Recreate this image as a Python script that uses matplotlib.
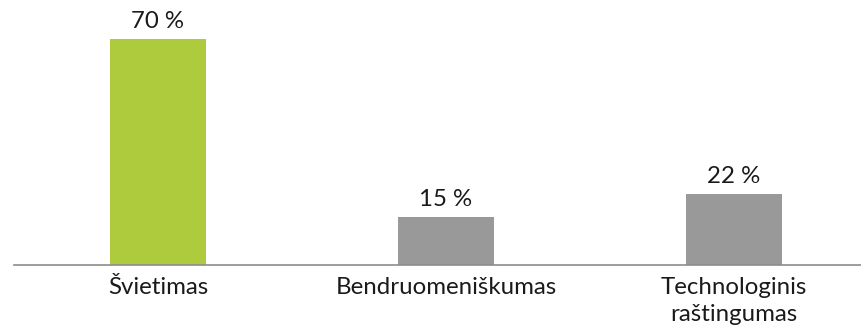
import matplotlib
matplotlib.use("Agg")
import matplotlib.pyplot as plt

categories = ["Švietimas", "Bendruomeniškumas", "Technologinis\nraštingumas"]
values = [70, 15, 22]
value_labels = ["70 %", "15 %", "22 %"]
colors = ["#ADCB3D", "#999999", "#999999"]

plt.rcParams["font.family"] = ["Lato", "DejaVu Sans"]

fig = plt.figure(figsize=(8.62, 3.27), dpi=100)
ax = fig.add_axes([14 / 862, 62 / 327, 864 / 862, 265 / 327])

x = range(len(categories))
bars = ax.bar(x, values, width=0.333, color=colors)

for rect, lab in zip(bars, value_labels):
    ax.annotate(lab, (rect.get_x() + rect.get_width() / 2, rect.get_height()),
                xytext=(0, 5), textcoords="offset points",
                ha="center", va="bottom", fontsize=17.3, color="#1a1a1a")

ax.set_xlim(-0.5, 2.5)
ax.set_ylim(0, 82)
ax.set_xticks(list(x))
ax.set_xticklabels(categories, fontsize=17.3, color="#1a1a1a", linespacing=1.3)
ax.tick_params(axis="x", length=0, pad=9)
ax.set_yticks([])

for side in ["top", "right", "left"]:
    ax.spines[side].set_visible(False)
ax.spines["bottom"].set_color("#8c8c8c")
ax.spines["bottom"].set_linewidth(1.2)

fig.savefig("out.png", dpi=100)
